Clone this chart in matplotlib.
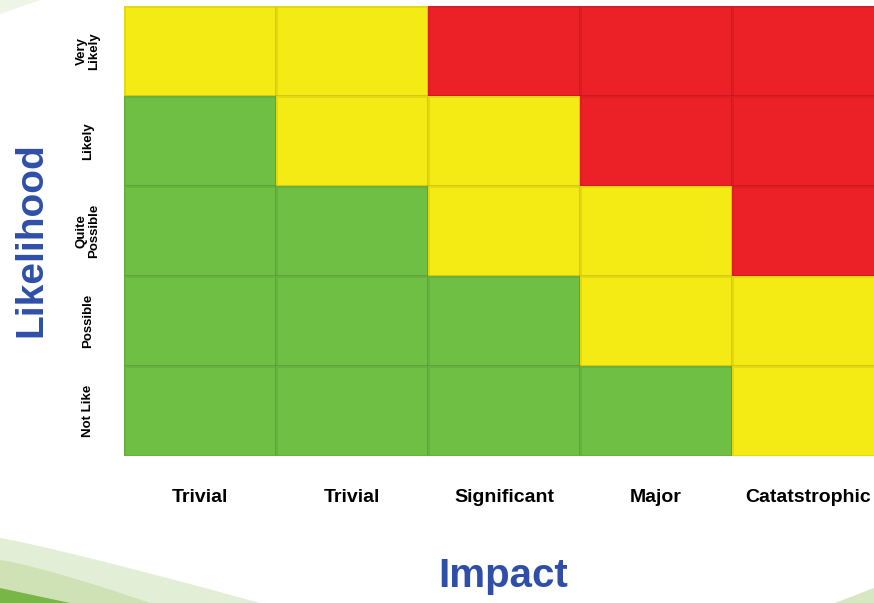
import numpy as np
import matplotlib
matplotlib.use("Agg")
import matplotlib.pyplot as plt
from matplotlib.colors import ListedColormap
from matplotlib.patches import Polygon
from matplotlib import font_manager

# Risk matrix data: rows are likelihood (top to bottom), columns are impact
impact_labels = ["Trivial", "Trivial", "Significant", "Major", "Catatstrophic"]
likelihood_labels = ["Very\nLikely", "Likely", "Quite\nPossible", "Possible", "Not Like"]
# 0 = low (green), 1 = medium (yellow), 2 = high (red)
risk_levels = [
    [1, 1, 2, 2, 2],
    [0, 1, 1, 2, 2],
    [0, 0, 1, 1, 2],
    [0, 0, 0, 1, 1],
    [0, 0, 0, 0, 1],
]
level_colors = ["#6ebf44", "#f4ea14", "#ec2027"]

available = {f.name for f in font_manager.fontManager.ttflist}
narrow = "Liberation Sans Narrow" if "Liberation Sans Narrow" in available else "Liberation Sans"

W, H = 874, 603
fig = plt.figure(figsize=(W / 100, H / 100), dpi=100)
fig.patch.set_facecolor("white")

# decorative swoosh in the bottom-left corner
bg = fig.add_axes([0, 0, 1, 1], zorder=0)
bg.set_xlim(0, W)
bg.set_ylim(H, 0)
bg.axis("off")
xs = np.linspace(0, 260, 60)
upper = 538 + 65 * (xs / 260) ** 1.1
light = np.concatenate([np.column_stack([xs, upper]), [[260, H], [0, H]]])
bg.add_patch(Polygon(light, closed=True, facecolor="#e3eed6", edgecolor="none"))
xs2 = np.linspace(0, 150, 40)
upper2 = 560 + 43 * (xs2 / 150) ** 1.2
mid = np.concatenate([np.column_stack([xs2, upper2]), [[150, H], [0, H]]])
bg.add_patch(Polygon(mid, closed=True, facecolor="#cfe2b6", edgecolor="none"))
xs3 = np.linspace(0, 70, 30)
upper3 = 588 + 15 * (xs3 / 70)
dark = np.concatenate([np.column_stack([xs3, upper3]), [[70, H], [0, H]]])
bg.add_patch(Polygon(dark, closed=True, facecolor="#78b648", edgecolor="none"))
bg.add_patch(Polygon([[835, H], [874, 588], [874, H]], closed=True,
                     facecolor="#d6e8c2", edgecolor="none"))
bg.add_patch(Polygon([[0, 0], [40, 0], [0, 14]], closed=True,
                     facecolor="#eef5e6", edgecolor="none"))

# heat-map grid; the last column runs past the right edge of the figure
left, right, top, bottom = 124, 884, 6, 456
ax = fig.add_axes([left / W, 1 - bottom / H, (right - left) / W, (bottom - top) / H], zorder=1)
grid = np.array(risk_levels)
n_rows, n_cols = grid.shape
ax.pcolormesh(np.arange(n_cols + 1), np.arange(n_rows + 1), grid,
              cmap=ListedColormap(level_colors), vmin=-0.5, vmax=2.5,
              edgecolors=(0, 0, 0, 0.07), linewidth=0.8)
ax.set_xlim(0, n_cols)
ax.set_ylim(n_rows, 0)
for s in ax.spines.values():
    s.set_visible(False)

ax.set_xticks(np.arange(n_cols) + 0.5)
ax.set_xticklabels(impact_labels, fontfamily=narrow, fontweight="bold", fontsize=14)
ax.set_yticks(np.arange(n_rows) + 0.5)
ax.set_yticklabels(likelihood_labels, rotation=90, va="center", ha="center",
                   fontsize=9.5, fontweight="bold", fontfamily="Liberation Sans",
                   multialignment="center", linespacing=1.0)
ax.tick_params(axis="x", length=0, pad=24)
ax.tick_params(axis="y", length=0, pad=26)

fig.text(31 / W, 1 - 240 / H, "Likelihood", rotation=90, ha="center", va="center",
         fontsize=28, fontweight="bold", color="#2f4ea8", fontfamily="Liberation Sans")
fig.text(503 / W, 1 - 576 / H, "Impact", ha="center", va="center",
         fontsize=29, fontweight="bold", color="#2f4ea8", fontfamily=narrow)

fig.savefig("out.png", dpi=100, facecolor="white")
